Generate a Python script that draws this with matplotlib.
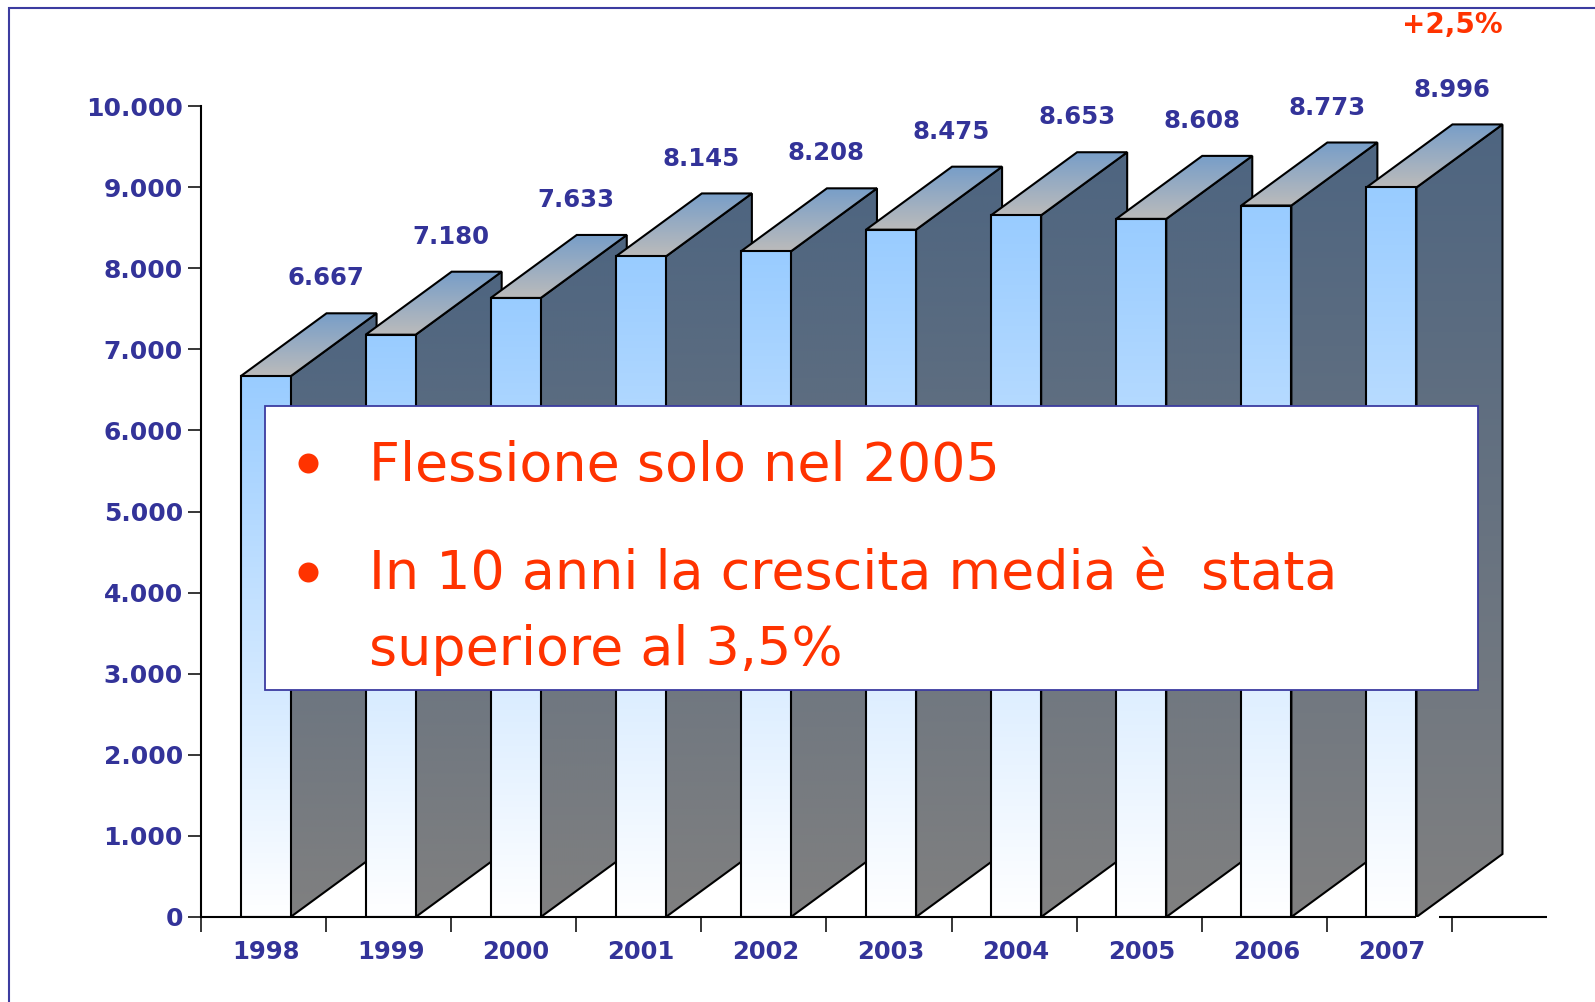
import numpy as np
import matplotlib
matplotlib.use('Agg')
import matplotlib.pyplot as plt
from matplotlib.patches import Polygon, Rectangle
from matplotlib.lines import Line2D
from matplotlib.colors import LinearSegmentedColormap

# ---------------- data ----------------
years = ['1998', '1999', '2000', '2001', '2002', '2003', '2004', '2005', '2006', '2007']
values = [6667, 7180, 7633, 8145, 8208, 8475, 8653, 8608, 8773, 8996]
value_labels = ['6.667', '7.180', '7.633', '8.145', '8.208', '8.475', '8.653', '8.608', '8.773', '8.996']
yticks = [0, 1000, 2000, 3000, 4000, 5000, 6000, 7000, 8000, 9000, 10000]
ytick_labels = ['0', '1.000', '2.000', '3.000', '4.000', '5.000', '6.000', '7.000', '8.000', '9.000', '10.000']
growth_label = '+2,5%'
bullet_lines = ['Flessione solo nel 2005', 'In 10 anni la crescita media è  stata', 'superiore al 3,5%']

# ---------------- style ----------------
BLUE_TXT = '#333399'
RED_TXT = '#ff3300'
FRONT_TOP, FRONT_BOT = '#99ccff', '#ffffff'
SIDE_TOP, SIDE_BOT = '#4e6580', '#808080'
TOPF_BACK, TOPF_FRONT = '#789ec8', '#bbbbbb'

plt.rcParams['font.family'] = ['DejaVu Sans']

W, H = 1595, 1002
fig = plt.figure(figsize=(W / 100, H / 100), dpi=100)
X0, X1 = 201, 1547      # pixel x of y-axis and end of x-axis
Y0, Y1 = 917, 106       # pixel y of value 0 and value 10000
ax = fig.add_axes([X0 / W, 1 - Y0 / H, (X1 - X0) / W, (Y0 - Y1) / H])
slot = 125.1
xmax = (X1 - X0) / slot
px_per_val = (Y0 - Y1) / 10000.0

off = 0.316          # front left offset inside slot
bw = 0.40            # front width
ddx = 86 / slot      # depth offset x
ddy = 63 / px_per_val  # depth offset y (value units)


def grad_poly(xy, c_bot, c_top, xlo, xhi, ylo, yhi, z):
    clip = Polygon(xy, closed=True, facecolor='none', edgecolor='none')
    ax.add_patch(clip)
    cmap = LinearSegmentedColormap.from_list('g', [c_bot, c_top])
    grad = np.linspace(0, 1, 256).reshape(-1, 1)
    im = ax.imshow(grad, cmap=cmap, origin='lower', extent=[xlo, xhi, ylo, yhi],
                   aspect='auto', zorder=z, interpolation='bilinear')
    im.set_clip_path(clip)
    ax.add_patch(Polygon(xy, closed=True, facecolor='none', edgecolor='black',
                         lw=1.5, zorder=z + 0.005, joinstyle='miter'))


for i, v in enumerate(values):
    z = 2 + i * 0.1
    xl = i + off
    xr = xl + bw
    # side face
    side = [(xr, 0), (xr + ddx, ddy), (xr + ddx, v + ddy), (xr, v)]
    grad_poly(side, SIDE_BOT, SIDE_TOP, xr, xr + ddx, 0, v + ddy, z)
    # top face
    top = [(xl, v), (xr, v), (xr + ddx, v + ddy), (xl + ddx, v + ddy)]
    grad_poly(top, TOPF_FRONT, TOPF_BACK, xl, xr + ddx, v, v + ddy, z + 0.02)
    # front face
    front = [(xl, 0), (xr, 0), (xr, v), (xl, v)]
    grad_poly(front, FRONT_BOT, FRONT_TOP, xl, xr, 0, v, z + 0.04)
    # value label
    ax.text(i + 1.0, v + ddy + 430, value_labels[i], ha='center', va='center',
            fontsize=17.6, fontweight='bold', color=BLUE_TXT, clip_on=False, zorder=6)
    # year label
    ax.text(xl + bw / 2, -0.0432, years[i], transform=ax.get_xaxis_transform(),
            ha='center', va='center', fontsize=17.5, fontweight='bold', color=BLUE_TXT,
            clip_on=False)

ax.text(10.0, (Y0 - 25) / px_per_val, growth_label, ha='center', va='center',
        fontsize=20, fontweight='bold', color=RED_TXT, clip_on=False)

# axis lines
last_right = 9 + off + bw
ax.plot([0, last_right], [0, 0], color='black', lw=1.5, clip_on=False, zorder=5,
        solid_capstyle='butt')
ax.plot([last_right + 23 / slot, xmax], [0, 0], color='black', lw=1.5, clip_on=False,
        zorder=5, solid_capstyle='butt')

ax.set_xlim(0, xmax)
ax.set_ylim(0, 10000)
for s in ['top', 'right', 'bottom']:
    ax.spines[s].set_visible(False)
ax.spines['left'].set_linewidth(1.5)
ax.set_facecolor('none')

ax.set_yticks(yticks)
ax.set_yticklabels(ytick_labels, fontsize=18, fontweight='bold', color=BLUE_TXT)
ax.tick_params(axis='y', length=9.4, width=1.1, pad=3.6)
ax.set_xticks(range(11))
ax.set_xticklabels([''] * 11)
ax.tick_params(axis='x', length=10.8, width=1.1)

# outer frame
fig.add_artist(Rectangle((9 / W, -0.1), 1.2, 1 - 8 / H + 0.1, transform=fig.transFigure,
                         fill=False, edgecolor='#3c3ca0', lw=1.5, zorder=20))

# text box
fig.add_artist(Rectangle((265 / W, 1 - 690 / H), (1478 - 265) / W, (690 - 406) / H,
                         transform=fig.transFigure, facecolor='white',
                         edgecolor='#3c3ca0', lw=1.3, zorder=10))
bx = 307.5 / W
tx = 369 / W
baselines = [481, 589, 665]
for by in [463, 572]:
    fig.add_artist(Line2D([bx], [1 - by / H], marker='o', markersize=14.4,
                          color=RED_TXT, markeredgewidth=0, transform=fig.transFigure,
                          zorder=11))
for line, b in zip(bullet_lines, baselines):
    fig.text(tx, 1 - b / H, line, ha='left', va='baseline', fontsize=38.8,
             color=RED_TXT, zorder=11)

fig.savefig('out.png', dpi=100)
